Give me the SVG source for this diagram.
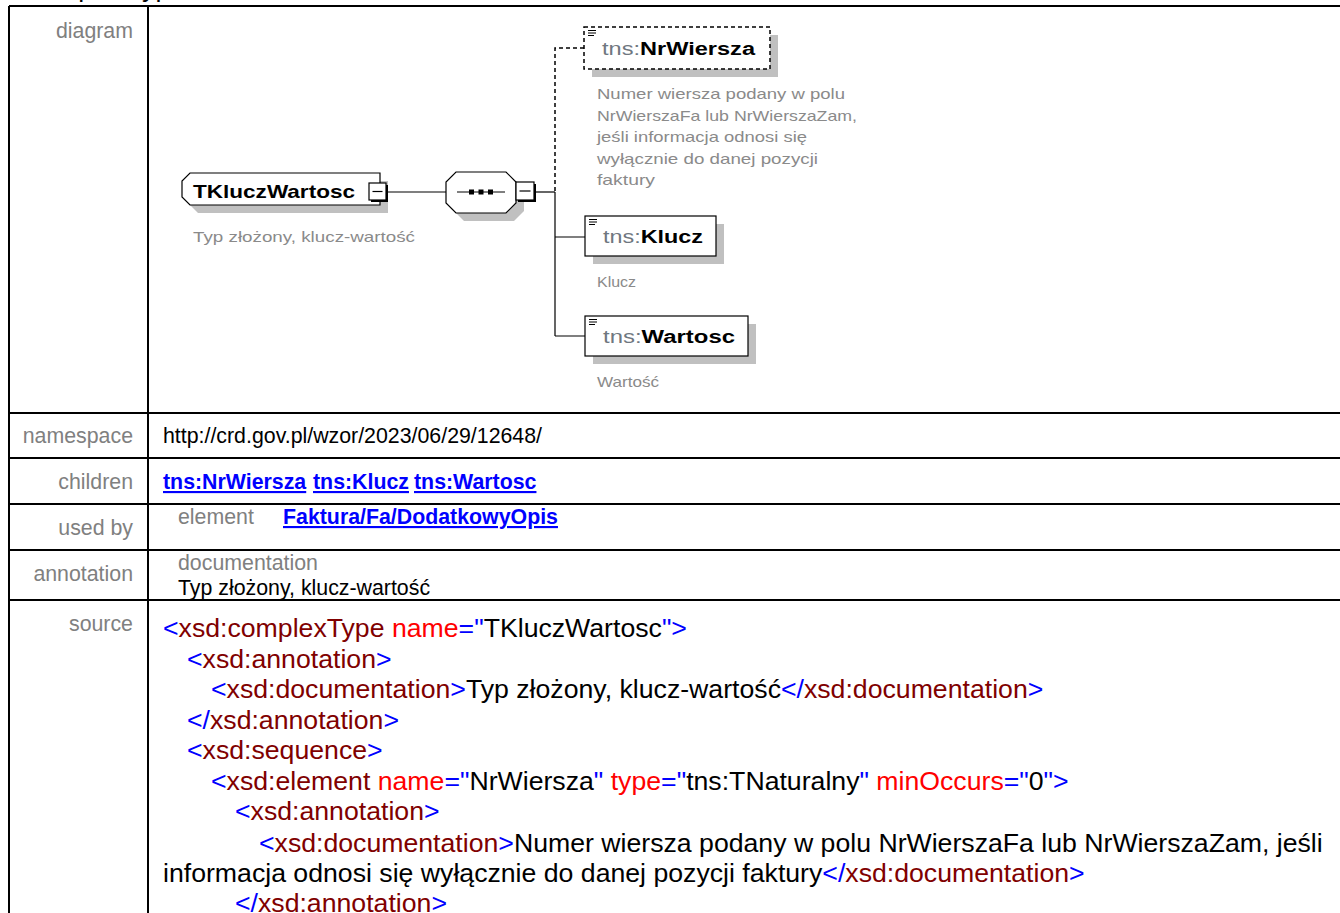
<svg xmlns="http://www.w3.org/2000/svg" width="1340" height="913" viewBox="0 0 1340 913">
<style>
text{font-family:"Liberation Sans",Arial,sans-serif}
.grid{stroke:#000;stroke-width:2;fill:none}
.lbl{font-size:21.33px;fill:#808080;text-anchor:end}
.val{font-size:21.33px;fill:#000}
.sub{font-size:21.33px;fill:#808080}
.lnk{font-size:21.33px;font-weight:bold;fill:#0000ff;text-decoration:underline}
.src{font-size:26.67px;fill:#000}
.b{fill:#0000ff}.m{fill:#800000}.r{fill:#ff0000}
.shadow{fill:#c0c0c0}
.box{fill:#fff;stroke:#000;stroke-width:1.2}
.dbox{fill:#fff;stroke:#000;stroke-width:1.5;stroke-dasharray:4 3}
.nm{font-size:17.5px;fill:#000}
.ns{fill:#6f7780;font-weight:normal}
.nb{font-weight:bold}
.doc{font-size:15px;fill:#8a8a8a}
.conn{stroke:#000;stroke-width:1.2;fill:none}
.dash{stroke:#000;stroke-width:1.5;fill:none;stroke-dasharray:4 3}
.ic{stroke:#000;stroke-width:1.2}
</style>
<rect width="1340" height="913" fill="#fff"/>
<text x="28" y="-3" class="src">complexType TKluczWartosc</text>
<g id="table">
<path class="grid" d="M9,6 H1342 M9,6 V915 M148,6 V915 M9,413 H1342 M9,458 H1342 M9,504 H1342 M9,550 H1342 M9,600 H1342"/>
<text x="133" y="38" class="lbl">diagram</text>
<text x="133" y="443" class="lbl">namespace</text>
<text x="133" y="489" class="lbl">children</text>
<text x="133" y="535" class="lbl">used by</text>
<text x="133" y="581" class="lbl">annotation</text>
<text x="133" y="631" class="lbl">source</text>
<text x="163" y="443" class="val">http://crd.gov.pl/wzor/2023/06/29/12648/</text>
<text x="163" y="489" class="lnk">tns:NrWiersza</text>
<text x="313" y="489" class="lnk">tns:Klucz</text>
<text x="414" y="489" class="lnk">tns:Wartosc</text>
<text x="178" y="524" class="sub">element</text>
<text x="283" y="524" class="lnk">Faktura/Fa/DodatkowyOpis</text>
<text x="178" y="570" class="sub">documentation</text>
<text x="178" y="595" class="val">Typ złożony, klucz-wartość</text>
<text x="163" y="637" class="src"><tspan class="b">&lt;</tspan><tspan class="m">xsd:complexType</tspan> <tspan class="r">name</tspan><tspan class="b">="</tspan>TKluczWartosc<tspan class="b">"&gt;</tspan></text>
<text x="187" y="668" class="src"><tspan class="b">&lt;</tspan><tspan class="m">xsd:annotation</tspan><tspan class="b">&gt;</tspan></text>
<text x="211" y="698" class="src"><tspan class="b">&lt;</tspan><tspan class="m">xsd:documentation</tspan><tspan class="b">&gt;</tspan>Typ złożony, klucz-wartość<tspan class="b">&lt;/</tspan><tspan class="m">xsd:documentation</tspan><tspan class="b">&gt;</tspan></text>
<text x="187" y="729" class="src"><tspan class="b">&lt;/</tspan><tspan class="m">xsd:annotation</tspan><tspan class="b">&gt;</tspan></text>
<text x="187" y="759" class="src"><tspan class="b">&lt;</tspan><tspan class="m">xsd:sequence</tspan><tspan class="b">&gt;</tspan></text>
<text x="211" y="790" class="src"><tspan class="b">&lt;</tspan><tspan class="m">xsd:element</tspan> <tspan class="r">name</tspan><tspan class="b">="</tspan>NrWiersza<tspan class="b">"</tspan> <tspan class="r">type</tspan><tspan class="b">="</tspan>tns:TNaturalny<tspan class="b">"</tspan> <tspan class="r">minOccurs</tspan><tspan class="b">="</tspan>0<tspan class="b">"&gt;</tspan></text>
<text x="235" y="820" class="src"><tspan class="b">&lt;</tspan><tspan class="m">xsd:annotation</tspan><tspan class="b">&gt;</tspan></text>
<text x="259" y="852" class="src"><tspan class="b">&lt;</tspan><tspan class="m">xsd:documentation</tspan><tspan class="b">&gt;</tspan>Numer wiersza podany w polu NrWierszaFa lub NrWierszaZam, jeśli</text>
<text x="163" y="882" class="src">informacja odnosi się wyłącznie do danej pozycji faktury<tspan class="b">&lt;/</tspan><tspan class="m">xsd:documentation</tspan><tspan class="b">&gt;</tspan></text>
<text x="235" y="912" class="src"><tspan class="b">&lt;/</tspan><tspan class="m">xsd:annotation</tspan><tspan class="b">&gt;</tspan></text>
</g>
<g id="connectors">
<line class="conn" x1="388" y1="192" x2="446" y2="192"/>
<line class="conn" x1="536" y1="192" x2="555" y2="192"/>
<path class="dash" d="M584,48 H555 V192"/>
<path class="conn" d="M555,192 V336 M555,237 H585 M555,336 H585"/>
</g>
<g id="node-TKluczWartosc">
<path class="shadow" d="M198,181 H388 V213 H198 L190,205 V189 Z"/>
<path class="box" d="M190,173 H380 V205 H190 L182,197 V181 Z"/>
<text x="193" y="198" font-size="19px" font-weight="bold" textLength="162" lengthAdjust="spacingAndGlyphs">TKluczWartosc</text>
<rect x="371" y="185" width="17" height="17" fill="#000"/>
<rect x="369" y="183" width="17" height="17" class="box"/>
<line x1="372.5" y1="191.5" x2="382.5" y2="191.5" class="ic"/>
<text x="193" y="242" class="doc" textLength="222" lengthAdjust="spacingAndGlyphs">Typ złożony, klucz-wartość</text>
</g>
<g id="node-sequence">
<path class="shadow" d="M464,180 H514 L524,190 V211 L514,221 H464 L454,211 V190 Z"/>
<path class="box" d="M456,172 H506 L516,182 V203 L506,213 H456 L446,203 V182 Z"/>
<line x1="457" y1="192" x2="505" y2="192" class="ic"/>
<rect x="469" y="189.5" width="5" height="5"/>
<rect x="478.5" y="189.5" width="5" height="5"/>
<rect x="488" y="189.5" width="5" height="5"/>
<rect x="518" y="184" width="18" height="18" fill="#000"/>
<rect x="516" y="182" width="18" height="18" class="box"/>
<line x1="519.5" y1="191" x2="530.5" y2="191" class="ic"/>
</g>
<g id="node-NrWiersza">
<rect x="592" y="35" width="186" height="42" class="shadow"/>
<rect x="584" y="27" width="186" height="42" class="dbox"/>
<path class="ic" d="M588,30.5 H596 M588,33 H596 M588,35.5 H594"/>
<text x="602" y="55" class="nm" textLength="153" lengthAdjust="spacingAndGlyphs"><tspan class="ns">tns:</tspan><tspan class="nb">NrWiersza</tspan></text>
<text x="597" y="99" class="doc" textLength="248" lengthAdjust="spacingAndGlyphs">Numer wiersza podany w polu</text>
<text x="597" y="120.5" class="doc" textLength="260" lengthAdjust="spacingAndGlyphs">NrWierszaFa lub NrWierszaZam,</text>
<text x="597" y="142" class="doc" textLength="210" lengthAdjust="spacingAndGlyphs">jeśli informacja odnosi się</text>
<text x="597" y="163.5" class="doc" textLength="221" lengthAdjust="spacingAndGlyphs">wyłącznie do danej pozycji</text>
<text x="597" y="185" class="doc" textLength="58" lengthAdjust="spacingAndGlyphs">faktury</text>
</g>
<g id="node-Klucz">
<rect x="593" y="224" width="131" height="40" class="shadow"/>
<rect x="585" y="216" width="131" height="40" class="box"/>
<path class="ic" d="M589,219.5 H597 M589,222 H597 M589,224.5 H595"/>
<text x="603" y="243" class="nm" textLength="100" lengthAdjust="spacingAndGlyphs"><tspan class="ns">tns:</tspan><tspan class="nb">Klucz</tspan></text>
<text x="597" y="287" class="doc" textLength="39" lengthAdjust="spacingAndGlyphs">Klucz</text>
</g>
<g id="node-Wartosc">
<rect x="593" y="324" width="163" height="40" class="shadow"/>
<rect x="585" y="316" width="163" height="40" class="box"/>
<path class="ic" d="M589,319.5 H597 M589,322 H597 M589,324.5 H595"/>
<text x="603" y="343" class="nm" textLength="132" lengthAdjust="spacingAndGlyphs"><tspan class="ns">tns:</tspan><tspan class="nb">Wartosc</tspan></text>
<text x="597" y="387" class="doc" textLength="62" lengthAdjust="spacingAndGlyphs">Wartość</text>
</g>
</svg>
